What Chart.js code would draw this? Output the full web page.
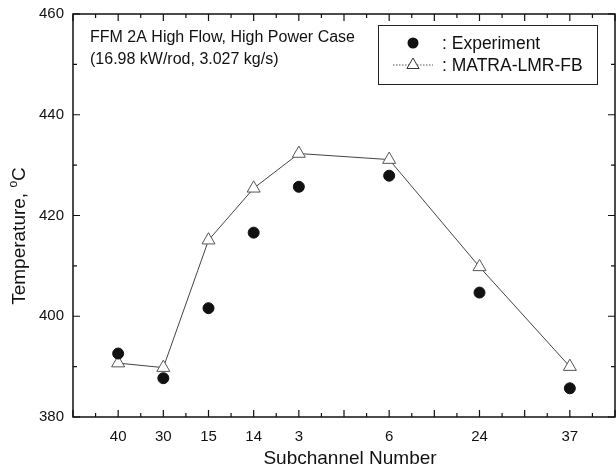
<!DOCTYPE html>
<html lang="en">
  <head>
    <meta charset="utf-8" />
    <script src="https://cdn.jsdelivr.net/npm/chart.js@4.4.0/dist/chart.umd.min.js"></script>
    <style>
      html, body { margin: 0; padding: 0; background: #fff; }
    </style>
    <title>Subchannel temperature</title>
  </head>
  <body>
    <canvas id="myChart" width="616" height="474"></canvas>
    <script>
      // subchannel labels and their slot on the x axis (gaps after 3, 6, 24)
      const subchannels = ["40", "30", "15", "14", "3", "6", "24", "37"];
      const slots = [1, 2, 3, 4, 5, 7, 9, 11];
      const experiment = [392.6, 387.7, 401.6, 416.6, 425.7, 427.9, 404.7, 385.7];
      const matra = [390.7, 389.8, 415.1, 425.4, 432.3, 431.1, 409.8, 390.0];
      const yTicks = [380, 400, 420, 440, 460];

      const FONT = "'Liberation Sans', Arial, sans-serif";

      const frame = {
        id: "frame",
        afterDraw(chart) {
          const { ctx, chartArea: a, scales } = chart;
          const x = scales.x, y = scales.y;
          ctx.save();
          ctx.strokeStyle = "#111";
          ctx.lineWidth = 1.5;
          ctx.strokeRect(a.left, a.top, a.right - a.left, a.bottom - a.top);

          // ticks pointing inward on all four sides
          ctx.lineWidth = 1.2;
          ctx.beginPath();
          for (let v = 0; v <= 12; v += 0.5) {
            const px = x.getPixelForValue(v);
            const len = Number.isInteger(v) ? 7 : 4;
            ctx.moveTo(px, a.bottom); ctx.lineTo(px, a.bottom - len);
            ctx.moveTo(px, a.top); ctx.lineTo(px, a.top + len);
          }
          for (let v = 380; v <= 460; v += 10) {
            const py = y.getPixelForValue(v);
            const len = v % 20 === 0 ? 7 : 4;
            ctx.moveTo(a.left, py); ctx.lineTo(a.left + len, py);
            ctx.moveTo(a.right, py); ctx.lineTo(a.right - len, py);
          }
          ctx.stroke();

          // annotation
          ctx.fillStyle = "#111";
          ctx.font = "16px " + FONT;
          ctx.textBaseline = "middle";
          ctx.textAlign = "left";
          ctx.fillText("FFM 2A High Flow, High Power Case", 90, 38);
          ctx.fillText("(16.98 kW/rod, 3.027 kg/s)", 90, 60);

          // legend
          ctx.lineWidth = 1;
          ctx.strokeStyle = "#222";
          ctx.strokeRect(378.5, 25.5, 219, 59);
          ctx.beginPath();
          ctx.arc(413, 43, 5.5, 0, Math.PI * 2);
          ctx.fill();
          ctx.setLineDash([1.5, 1.5]);
          ctx.strokeStyle = "#555";
          ctx.beginPath();
          ctx.moveTo(393, 65); ctx.lineTo(433, 65);
          ctx.stroke();
          ctx.setLineDash([]);
          const r = 7;
          ctx.beginPath();
          ctx.moveTo(413, 65 - r);
          ctx.lineTo(413 + r * 0.866, 65 + r * 0.5);
          ctx.lineTo(413 - r * 0.866, 65 + r * 0.5);
          ctx.closePath();
          ctx.fillStyle = "#fff";
          ctx.fill();
          ctx.strokeStyle = "#333";
          ctx.stroke();
          ctx.fillStyle = "#111";
          ctx.font = "17.5px " + FONT;
          ctx.fillText(": Experiment", 442, 44);
          ctx.fillText(": MATRA-LMR-FB", 442, 66);

          // axis titles
          ctx.font = "19px " + FONT;
          ctx.textAlign = "center";
          ctx.textBaseline = "alphabetic";
          ctx.fillText("Subchannel Number", 350, 464);

          ctx.translate(25, 236);
          ctx.rotate(-Math.PI / 2);
          ctx.textAlign = "left";
          const a1 = "Temperature, ";
          ctx.font = "19px " + FONT;
          const w1 = ctx.measureText(a1).width;
          ctx.font = "12px " + FONT;
          const w2 = ctx.measureText("o").width;
          ctx.font = "19px " + FONT;
          const w3 = ctx.measureText("C").width;
          let sx = -(w1 + w2 + w3) / 2;
          ctx.fillText(a1, sx, 0);
          ctx.font = "12px " + FONT;
          ctx.fillText("o", sx + w1, -8);
          ctx.font = "19px " + FONT;
          ctx.fillText("C", sx + w1 + w2, 0);
          ctx.restore();
        },
      };

      const ctx = document.getElementById("myChart").getContext("2d");
      const myChart = new Chart(ctx, {
        type: "scatter",
        data: {
          datasets: [
            {
              label: "Experiment",
              data: slots.map((s, i) => ({ x: s, y: experiment[i] })),
              showLine: false,
              pointStyle: "circle",
              pointRadius: 5.5,
              pointBackgroundColor: "#111",
              pointBorderColor: "#111",
              pointBorderWidth: 1,
            },
            {
              label: "MATRA-LMR-FB",
              data: slots.map((s, i) => ({ x: s, y: matra[i] })),
              showLine: true,
              borderColor: "#444",
              borderWidth: 1,
              tension: 0,
              pointStyle: "triangle",
              pointRadius: 7.5,
              pointBackgroundColor: "#fff",
              pointBorderColor: "#555",
              pointBorderWidth: 1,
            },
          ],
        },
        options: {
          responsive: false,
          animation: false,
          layout: {
            autoPadding: false,
            padding: { top: 14, right: 1, left: 0, bottom: 0 },
          },
          plugins: { legend: { display: false }, tooltip: { enabled: false } },
          scales: {
            x: {
              type: "linear",
              min: 0,
              max: 12,
              grid: { display: false, drawTicks: false },
              border: { display: false },
              afterFit: (s) => {
                s.height = 57;
                s.paddingLeft = 0;
                s.paddingRight = 0;
              },
              afterBuildTicks: (s) => {
                s.ticks = slots.map((v) => ({ value: v }));
              },
              ticks: {
                autoSkip: false,
                maxRotation: 0,
                padding: 11,
                color: "#111",
                font: { family: FONT, size: 15 },
                callback: (v) => subchannels[slots.indexOf(v)] ?? "",
              },
            },
            y: {
              min: 380,
              max: 460,
              grid: { display: false, drawTicks: false },
              border: { display: false },
              afterFit: (s) => {
                s.width = 73;
                s.paddingTop = 0;
                s.paddingBottom = 0;
              },
              afterBuildTicks: (s) => {
                s.ticks = yTicks.map((v) => ({ value: v }));
              },
              ticks: {
                padding: 9,
                color: "#111",
                font: { family: FONT, size: 15 },
              },
            },
          },
        },
        plugins: [frame],
      });
    </script>
  </body>
</html>
